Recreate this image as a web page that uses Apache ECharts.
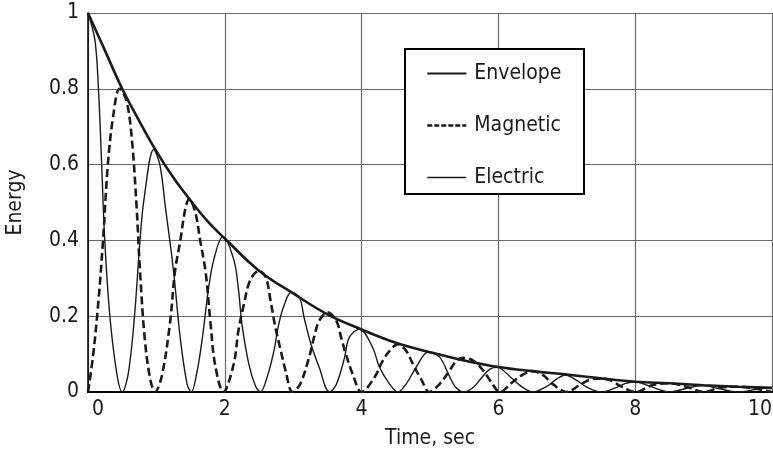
<!DOCTYPE html>
<html>
<head>
<meta charset="utf-8">
<script src="https://cdn.jsdelivr.net/npm/echarts@6/dist/echarts.min.js"></script>
<style>
	html, body { margin: 0; padding: 0; background: #fff; }
	#chart { width: 773px; height: 455px; }
</style>
</head>
<body>
<div id="chart"></div>
<script>
// 数据：从图中读取的 [时间, 能量] 点
const xTicks = [0, 2, 4, 6, 8, 10];
const yTicks = [0, 0.2, 0.4, 0.6, 0.8, 1];
const seriesNames = ['Envelope', 'Magnetic', 'Electric'];

const envelope = [
	[0, 1], [0.25, 0.9], [0.5, 0.8], [0.75, 0.715], [1, 0.635], [1.25, 0.565], [1.5, 0.505],
	[1.75, 0.45], [2, 0.405], [2.5, 0.32], [3, 0.26], [3.5, 0.205], [4, 0.165], [4.5, 0.13],
	[5, 0.105], [5.5, 0.083], [6, 0.066], [6.5, 0.055], [7, 0.046], [7.5, 0.036], [8, 0.027],
	[8.5, 0.023], [9, 0.018], [9.5, 0.014], [10, 0.011],
];

const magnetic = [
	[0, 0], [0.074, 0.096], [0.147, 0.228], [0.22, 0.4], [0.29, 0.6], [0.37, 0.73], [0.46, 0.8],
	[0.56, 0.77], [0.64, 0.67], [0.71, 0.49], [0.76, 0.32], [0.83, 0.14], [0.91, 0.034], [0.98, 0],
	[1.08, 0.043], [1.2, 0.184], [1.27, 0.316], [1.35, 0.4], [1.42, 0.48], [1.48, 0.51], [1.57, 0.473],
	[1.64, 0.4], [1.72, 0.316], [1.79, 0.184], [1.86, 0.07], [1.98, 0], [2.13, 0.074], [2.2, 0.163],
	[2.28, 0.232], [2.35, 0.285], [2.43, 0.312], [2.5, 0.32], [2.6, 0.302], [2.67, 0.24], [2.74, 0.17],
	[2.82, 0.108], [2.89, 0.055], [2.99, 0], [3.1, 0.02], [3.23, 0.09], [3.31, 0.148], [3.38, 0.188],
	[3.5, 0.21], [3.63, 0.188], [3.7, 0.144], [3.77, 0.1], [3.87, 0.047], [4, 0], [4.19, 0.039],
	[4.31, 0.083], [4.43, 0.113], [4.53, 0.126], [4.65, 0.109], [4.75, 0.074], [4.87, 0.034], [4.99, 0],
	[5.14, 0.021], [5.27, 0.052], [5.39, 0.083], [5.49, 0.09], [5.63, 0.083], [5.78, 0.056], [5.9, 0.025],
	[6.02, 0], [6.2, 0.025], [6.35, 0.045], [6.5, 0.055], [6.65, 0.045], [6.8, 0.02], [7, 0],
	[7.2, 0.02], [7.35, 0.033], [7.5, 0.036], [7.65, 0.03], [7.8, 0.014], [8, 0], [8.25, 0.018],
	[8.5, 0.023], [8.75, 0.014], [9, 0], [9.25, 0.012], [9.5, 0.014], [9.75, 0.009], [10, 0],
];

const electric = [
	[0, 1], [0.1, 0.93], [0.15, 0.81], [0.2, 0.6], [0.245, 0.4], [0.32, 0.2], [0.42, 0.05], [0.5, 0],
	[0.59, 0.05], [0.68, 0.2], [0.76, 0.4], [0.82, 0.51], [0.96, 0.64], [1.05, 0.6], [1.13, 0.49],
	[1.25, 0.32], [1.35, 0.14], [1.45, 0.02], [1.51, 0], [1.59, 0.05], [1.67, 0.14], [1.76, 0.27],
	[1.84, 0.35], [1.97, 0.41], [2.13, 0.35], [2.2, 0.27], [2.25, 0.18], [2.35, 0.075], [2.45, 0.015],
	[2.52, 0], [2.62, 0.04], [2.72, 0.11], [2.79, 0.18], [2.87, 0.23], [2.97, 0.263], [3.09, 0.25],
	[3.16, 0.196], [3.26, 0.126], [3.38, 0.065], [3.53, 0], [3.63, 0.02], [3.75, 0.09], [3.82, 0.144],
	[3.97, 0.166], [4.16, 0.118], [4.26, 0.066], [4.41, 0.021], [4.53, 0], [4.65, 0.021], [4.8, 0.066],
	[4.97, 0.105], [5.14, 0.092], [5.27, 0.047], [5.36, 0.016], [5.49, 0], [5.63, 0.012], [5.76, 0.039],
	[5.88, 0.061], [5.98, 0.065], [6.18, 0.039], [6.32, 0.017], [6.5, 0], [6.7, 0.014], [6.85, 0.034],
	[6.98, 0.045], [7.15, 0.03], [7.3, 0.012], [7.5, 0], [7.7, 0.01], [7.85, 0.022], [8, 0.027],
	[8.2, 0.016], [8.5, 0], [8.8, 0.012], [9, 0.017], [9.2, 0.01], [9.5, 0], [9.8, 0.008], [10, 0.011],
];

const FONT = "'DejaVu Sans Condensed', 'Liberation Sans Narrow', sans-serif";
const FONT_SIZE = 21;
const INK = '#1a1a1a';
const NO_SYMBOL = { color: 'rgba(0,0,0,0)', borderColor: 'rgba(0,0,0,0)', borderWidth: 0 };

const chart = echarts.init(document.getElementById('chart'), null, { renderer: 'canvas' });

const option = {
	backgroundColor: '#fff',
	animation: false,
	grid: { left: 88, right: 1, top: 13, bottom: 63, outerBoundsMode: 'none' },
	xAxis: [
		{
			type: 'value',
			min: xTicks[0],
			max: xTicks[xTicks.length - 1],
			interval: 2,
			name: 'Time, sec',
			nameLocation: 'middle',
			nameGap: 36,
			nameTextStyle: { fontFamily: FONT, fontSize: FONT_SIZE, color: INK },
			axisLine: { show: true, onZero: false, lineStyle: { color: '#000', width: 2 } },
			axisTick: { show: false },
			axisLabel: {
				fontFamily: FONT,
				fontSize: FONT_SIZE,
				color: INK,
				margin: 7,
				alignMinLabel: 'left',
				alignMaxLabel: 'right',
				formatter: (value) => (value === 0 ? '{first|0}' : String(value)),
				rich: { first: { fontFamily: FONT, fontSize: FONT_SIZE, color: INK, padding: [0, 0, 0, 4] } },
			},
			splitLine: { show: true, lineStyle: { color: '#6a6a6a', width: 1.2 } },
		},
		{
			// 上边框
			type: 'value',
			position: 'top',
			min: xTicks[0],
			max: xTicks[xTicks.length - 1],
			axisLine: { show: true, lineStyle: { color: '#000', width: 2 } },
			axisTick: { show: false },
			axisLabel: { show: false },
			splitLine: { show: false },
		},
	],
	yAxis: {
		type: 'value',
		min: yTicks[0],
		max: yTicks[yTicks.length - 1],
		interval: 0.2,
		name: 'Energy',
		nameLocation: 'middle',
		nameGap: 62,
		nameTextStyle: { fontFamily: FONT, fontSize: FONT_SIZE, color: INK },
		axisLine: { show: true, lineStyle: { color: '#000', width: 1.5 } },
		axisTick: { show: false },
		axisLabel: { fontFamily: FONT, fontSize: FONT_SIZE, color: INK, margin: 9 },
		splitLine: { show: true, lineStyle: { color: '#6a6a6a', width: 1.2 } },
	},
	legend: {
		orient: 'vertical',
		left: 426,
		top: 63,
		padding: 0,
		itemWidth: 39,
		itemHeight: 20,
		itemGap: 31,
		itemStyle: NO_SYMBOL,
		textStyle: { fontFamily: FONT, fontSize: FONT_SIZE, color: INK, padding: [0, 0, 0, 3] },
		data: [
			{ name: seriesNames[0], itemStyle: NO_SYMBOL, lineStyle: { width: 1.8, color: INK } },
			{ name: seriesNames[1], itemStyle: NO_SYMBOL, lineStyle: { width: 2.6, color: INK, type: [5, 2] } },
			{ name: seriesNames[2], itemStyle: NO_SYMBOL, lineStyle: { width: 1.6, color: INK } },
		],
	},
	graphic: [
		{
			type: 'rect',
			z: 3,
			shape: { x: 405, y: 49, width: 179, height: 145 },
			style: { fill: '#fff', stroke: '#000', lineWidth: 2 },
		},
	],
	series: [
		{
			name: seriesNames[0],
			type: 'line',
			data: envelope,
			smooth: 0.4,
			symbol: 'none',
			itemStyle: { color: INK },
			lineStyle: { color: INK, width: 2.6 },
			z: 4,
		},
		{
			name: seriesNames[1],
			type: 'line',
			data: magnetic,
			smooth: 0.35,
			symbol: 'none',
			itemStyle: { color: INK },
			lineStyle: { color: INK, width: 2.6, type: [8, 4] },
		},
		{
			name: seriesNames[2],
			type: 'line',
			data: electric,
			smooth: 0.35,
			symbol: 'none',
			itemStyle: { color: INK },
			lineStyle: { color: INK, width: 1.4 },
		},
	],
};

chart.setOption(option);
</script>
</body>
</html>
